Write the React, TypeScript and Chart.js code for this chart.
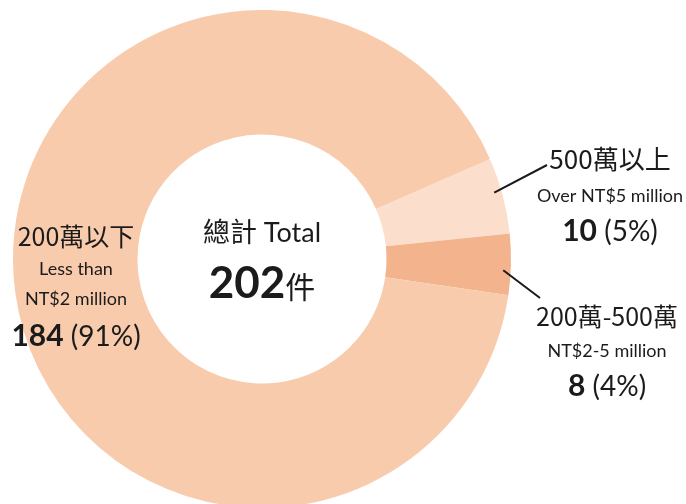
import React, { useEffect, useRef } from "react";
import { Chart, registerables } from "chart.js";

Chart.register(...registerables);

const categories = ["500萬以上", "200萬-500萬", "200萬以下"];
const englishLabels = [["Over NT$5 million"], ["NT$2-5 million"], ["Less than", "NT$2 million"]];
const counts = [10, 8, 184];
const colors = ["#FBDECC", "#F3B48D", "#F8CBAD"];
const centerTitle = ["總計", " Total"];
const unitLabel = "件";

const LATIN = "Lato, 'Noto Sans CJK TC', sans-serif";
const CJK = "'Noto Sans CJK TC', Lato, sans-serif";
const INK = "#1b1b1b";

type Run = { text: string; font: string };

function drawRuns(ctx: CanvasRenderingContext2D, runs: Run[], cx: number, baseline: number) {
  let total = 0;
  const widths = runs.map((r) => {
    ctx.font = r.font;
    const w = ctx.measureText(r.text).width;
    total += w;
    return w;
  });
  let x = cx - total / 2;
  runs.forEach((r, i) => {
    ctx.font = r.font;
    ctx.fillText(r.text, x, baseline);
    x += widths[i];
  });
}

const labelPlugin = {
  id: "donutLabels",
  afterDraw(chart: any) {
    const ctx: CanvasRenderingContext2D = chart.ctx;
    const meta = chart.getDatasetMeta(0);
    const arcs = meta.data;
    if (!arcs.length) return;
    const cx = arcs[0].x;
    const cy = arcs[0].y;
    const R = arcs[0].outerRadius;
    const total = counts.reduce((a, b) => a + b, 0);
    const pct = (v: number) => Math.round((v / total) * 100) + "%";

    ctx.save();
    ctx.fillStyle = INK;
    ctx.textBaseline = "alphabetic";
    ctx.textAlign = "left";

    // center
    drawRuns(
      ctx,
      [
        { text: centerTitle[0], font: `400 27px ${CJK}` },
        { text: centerTitle[1], font: `400 27px ${LATIN}` },
      ],
      cx,
      cy - 17
    );
    drawRuns(
      ctx,
      [
        { text: String(total), font: `700 44px ${LATIN}` },
        { text: unitLabel, font: `400 30px ${CJK}` },
      ],
      cx,
      cy + 39
    );

    // label placements relative to the doughnut centre
    const places = [
      { x: 348, size: 26, lines: [-90, -57, -18], lineEnd: [285, -94] },
      { x: 345, size: 25, lines: [67, 98, 137], lineEnd: [278, 39] },
      { x: -186, size: 25, lines: [-13, 16, 46, 87], lineEnd: null as any },
    ];

    categories.forEach((cat, i) => {
      const p = places[i];
      const lx = cx + p.x;
      let li = 0;
      ctx.fillStyle = INK;
      drawRuns(ctx, [{ text: cat, font: `400 ${p.size}px ${CJK}` }], lx, cy + p.lines[li++]);
      englishLabels[i].forEach((t) => {
        drawRuns(ctx, [{ text: t, font: `400 18px ${LATIN}` }], lx, cy + p.lines[li++]);
      });
      drawRuns(
        ctx,
        [
          { text: String(counts[i]), font: `700 30px ${LATIN}` },
          { text: " (" + pct(counts[i]) + ")", font: `400 28px ${LATIN}` },
        ],
        lx,
        cy + p.lines[li++]
      );
      if (p.lineEnd) {
        const a = arcs[i];
        const mid = (a.startAngle + a.endAngle) / 2 + (i === 0 ? -0.02 : 0.025);
        const sx = cx + Math.cos(mid) * R * 0.97;
        const sy = cy + Math.sin(mid) * R * 0.97;
        ctx.beginPath();
        ctx.strokeStyle = "#1a1a1a";
        ctx.lineWidth = 2;
        ctx.moveTo(sx, sy);
        ctx.lineTo(cx + p.lineEnd[0], cy + p.lineEnd[1]);
        ctx.stroke();
      }
    });
    ctx.restore();
  },
};

export default function App() {
  const ref = useRef<HTMLCanvasElement | null>(null);
  useEffect(() => {
    document.body.style.margin = "0";
    const startDeg = -23.7; // boundary of first slice, measured from 3 o'clock
    const chart = new Chart(ref.current as HTMLCanvasElement, {
      type: "doughnut",
      data: {
        labels: categories,
        datasets: [
          {
            data: counts,
            backgroundColor: colors,
            borderWidth: 0,
            hoverOffset: 0,
          },
        ],
      },
      options: {
        animation: false,
        responsive: false,
        maintainAspectRatio: false,
        cutout: "50%",
        rotation: 90 + startDeg,
        layout: { padding: { left: 13, top: 10, right: 175, bottom: 12 } },
        plugins: {
          legend: { display: false },
          tooltip: { enabled: false },
          title: { display: false },
        },
        events: [],
      },
      plugins: [labelPlugin],
    });
    return () => chart.destroy();
  }, []);
  return (
    <div style={{ position: "absolute", left: 0, top: 0, width: 686, height: 504, overflow: "hidden", background: "#fff" }}>
      <canvas ref={ref} width={686} height={520} style={{ display: "block", width: 686, height: 520 }} />
    </div>
  );
}
